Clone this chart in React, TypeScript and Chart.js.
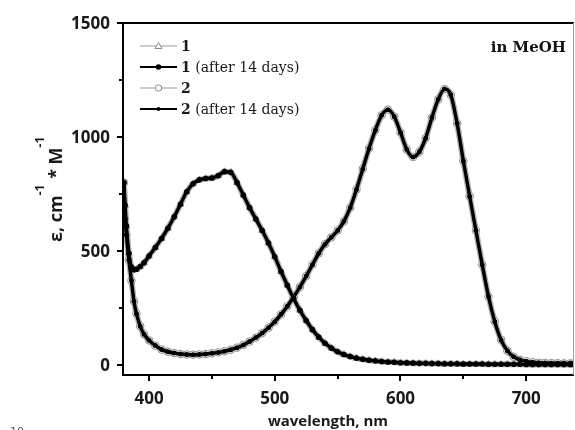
import React, { useEffect, useRef } from 'react';
import { Chart, registerables } from 'chart.js';
Chart.register(...registerables);

const wavelengths = [
  380, 381, 382, 384, 386, 388, 390, 393, 396, 400, 405, 410, 415, 420, 425, 430, 435, 440, 445, 450,
  455, 460, 465, 470, 475, 480, 485, 490, 495, 500, 505, 510, 515, 520, 525, 530, 535, 540, 545, 550,
  555, 560, 565, 570, 575, 580, 585, 590, 595, 600, 605, 610, 615, 620, 625, 630, 635, 640, 645, 650,
  655, 660, 665, 670, 675, 680, 685, 690, 695, 700, 705, 710, 715, 720, 725, 730, 735, 738,
];
const compound1 = [
  800, 700, 610, 490, 430, 418, 420, 432, 448, 478, 515, 555, 600, 650, 705, 760, 795, 812, 818, 820,
  830, 848, 845, 800, 745, 690, 640, 590, 535, 475, 410, 350, 292, 240, 195, 155, 122, 95, 74, 58,
  46, 37, 30, 25, 21, 18, 15, 13, 12, 10, 9, 8, 7, 7, 6, 6, 5, 5, 5, 4,
  4, 4, 4, 3, 3, 3, 3, 3, 3, 2, 2, 2, 2, 2, 2, 2, 2, 2,
];
const compound2 = [
  800, 640, 570, 460, 370, 280, 225, 170, 135, 108, 85, 68, 58, 52, 48, 46, 45, 46, 48, 51,
  55, 60, 67, 76, 88, 103, 120, 140, 163, 190, 222, 258, 298, 342, 390, 440, 490, 530, 560, 590,
  630, 690, 770, 860, 950, 1030, 1095, 1120, 1090, 1020, 945, 912, 935, 995, 1085, 1165, 1210, 1185, 1060, 895,
  740, 590, 440, 300, 190, 110, 62, 36, 23, 16, 12, 10, 9, 8, 8, 7, 7, 7,
];
const xTicks = [400, 500, 600, 700];
const xMinorTicks = [450, 550, 650];
const yTicks = [0, 500, 1000, 1500];
const yMinorTicks = [250, 750, 1250];
const legendNames = ['1', '1', '2', '2'];
const legendSuffix = ['', ' (after 14 days)', '', ' (after 14 days)'];
const xTitle = 'wavelength, nm';
const yTitleParts: [string, boolean][] = [['ε, cm', false], ['-1', true], [' * M', false], ['-1', true]];
const annotation = 'in MeOH';
const cornerText = '10';

const SANS = '"Open Sans", sans-serif';
const SERIF = '"DejaVu Serif", serif';

const makeData = (vals: number[]) => wavelengths.map((w, i) => ({ x: w, y: vals[i] }));

const decor = {
  id: 'decor',
  afterDraw(chart: any) {
    const { ctx, chartArea: a, scales } = chart;
    const x = scales.x;
    const y = scales.y;
    ctx.save();
    // frame
    ctx.strokeStyle = '#000';
    ctx.lineWidth = 2;
    ctx.beginPath();
    ctx.moveTo(a.left, a.top);
    ctx.lineTo(a.left, a.bottom);
    ctx.lineTo(a.right, a.bottom);
    ctx.moveTo(a.left, a.top);
    ctx.lineTo(a.right, a.top);
    ctx.stroke();
    ctx.strokeStyle = '#a0a0a0';
    ctx.lineWidth = 1;
    ctx.beginPath();
    ctx.moveTo(a.right - 0.5, a.top);
    ctx.lineTo(a.right - 0.5, a.bottom);
    ctx.stroke();

    // ticks
    ctx.strokeStyle = '#000';
    ctx.lineWidth = 2;
    ctx.beginPath();
    xTicks.forEach((v) => {
      const px = Math.round(x.getPixelForValue(v));
      ctx.moveTo(px, a.bottom);
      ctx.lineTo(px, a.bottom + 6);
    });
    xMinorTicks.forEach((v) => {
      const px = Math.round(x.getPixelForValue(v));
      ctx.moveTo(px, a.bottom);
      ctx.lineTo(px, a.bottom + 4);
    });
    yTicks.forEach((v) => {
      const py = Math.round(y.getPixelForValue(v));
      ctx.moveTo(a.left, py);
      ctx.lineTo(a.left - 6, py);
    });
    yMinorTicks.forEach((v) => {
      const py = Math.round(y.getPixelForValue(v));
      ctx.moveTo(a.left, py);
      ctx.lineTo(a.left - 4, py);
    });
    ctx.stroke();

    // tick labels
    ctx.fillStyle = '#1a1a1a';
    ctx.font = `bold 17px ${SANS}`;
    ctx.textAlign = 'right';
    ctx.textBaseline = 'middle';
    yTicks.forEach((v) => {
      ctx.fillText(String(v), a.left - 13, y.getPixelForValue(v) + 1);
    });
    ctx.textAlign = 'center';
    xTicks.forEach((v) => {
      ctx.fillText(String(v), x.getPixelForValue(v), a.bottom + 24);
    });

    // x title
    ctx.font = `bold 15px ${SANS}`;
    ctx.textBaseline = 'alphabetic';
    ctx.fillText(xTitle, 328, 426);

    // y title
    ctx.save();
    ctx.translate(62, 242);
    ctx.rotate(-Math.PI / 2);
    ctx.textAlign = 'left';
    let cx = 0;
    yTitleParts.forEach(([t, sup]) => {
      ctx.font = sup ? `bold 12px ${SANS}` : `bold 18px ${SANS}`;
      ctx.fillText(t, cx, sup ? -18 : 0);
      cx += ctx.measureText(t).width + (sup ? 1 : 0);
    });
    ctx.restore();

    // annotation
    ctx.font = `bold 15px ${SERIF}`;
    ctx.textAlign = 'right';
    ctx.fillStyle = '#111';
    ctx.fillText(annotation, 566, 52);

    // legend
    const rows = [46, 67, 88, 109];
    const x0 = 140;
    const x1 = 177;
    const mx = (x0 + x1) / 2;
    rows.forEach((ry, i) => {
      const after = i % 2 === 1;
      ctx.strokeStyle = after ? '#000' : '#9a9a9a';
      ctx.lineWidth = after ? 2 : 1.2;
      ctx.beginPath();
      ctx.moveTo(x0, ry);
      ctx.lineTo(x1, ry);
      ctx.stroke();
      ctx.lineWidth = 1;
      if (i === 0) {
        ctx.fillStyle = '#fff';
        ctx.strokeStyle = '#8a8a8a';
        ctx.beginPath();
        ctx.moveTo(mx, ry - 3.5);
        ctx.lineTo(mx + 3.5, ry + 2.5);
        ctx.lineTo(mx - 3.5, ry + 2.5);
        ctx.closePath();
        ctx.fill();
        ctx.stroke();
      } else if (i === 2) {
        ctx.fillStyle = '#fff';
        ctx.strokeStyle = '#8a8a8a';
        ctx.beginPath();
        ctx.arc(mx, ry, 3.2, 0, Math.PI * 2);
        ctx.fill();
        ctx.stroke();
      } else {
        ctx.fillStyle = '#000';
        ctx.beginPath();
        ctx.arc(mx, ry, i === 1 ? 2.8 : 2, 0, Math.PI * 2);
        ctx.fill();
      }
      ctx.fillStyle = '#1a1a1a';
      ctx.textAlign = 'left';
      ctx.textBaseline = 'middle';
      ctx.font = `bold 14px ${SERIF}`;
      ctx.fillText(legendNames[i], 181, ry + 1);
      const w = ctx.measureText(legendNames[i]).width;
      ctx.font = `14px ${SERIF}`;
      ctx.fillText(legendSuffix[i], 181 + w, ry + 1);
    });

    // cut-off corner text
    ctx.font = `11px "DejaVu Sans", sans-serif`;
    ctx.fillStyle = '#555';
    ctx.textAlign = 'left';
    ctx.textBaseline = 'alphabetic';
    ctx.fillText(cornerText, 10, 435);

    ctx.restore();
  },
};

export default function App() {
  const ref = useRef<HTMLCanvasElement | null>(null);
  useEffect(() => {
    if (!ref.current) return;
    const grey = (label: string, vals: number[], style: any) => ({
      label,
      data: makeData(vals),
      borderColor: '#b4b4b4',
      borderWidth: 6,
      pointStyle: style,
      pointRadius: 3.8,
      pointBackgroundColor: '#ffffff',
      pointBorderColor: '#8c8c8c',
      pointBorderWidth: 1,
      cubicInterpolationMode: 'monotone' as const,
      order: 2,
      clip: 0,
    });
    const black = (label: string, vals: number[], r: number) => ({
      label,
      data: makeData(vals),
      borderColor: '#000',
      borderWidth: 3.4,
      pointStyle: 'circle',
      pointRadius: r,
      pointBackgroundColor: '#000',
      pointBorderColor: '#000',
      pointBorderWidth: 0,
      cubicInterpolationMode: 'monotone' as const,
      order: 1,
      clip: 0,
    });
    const chart = new Chart(ref.current, {
      type: 'line',
      data: {
        datasets: [
          grey('1', compound1, 'triangle'),
          black('1 (after 14 days)', compound1, 2.8),
          grey('2', compound2, 'circle'),
          black('2 (after 14 days)', compound2, 2.5),
        ],
      },
      options: {
        responsive: false,
        animation: false,
        events: [],
        layout: { padding: { left: 0, top: 23, right: 1, bottom: 0 }, autoPadding: false },
        plugins: { legend: { display: false }, tooltip: { enabled: false } },
        scales: {
          x: {
            type: 'linear',
            min: 379.3,
            max: 738,
            grid: { display: false },
            border: { display: false },
            ticks: { display: false },
            afterFit: (s: any) => { s.height = 55; },
          },
          y: {
            type: 'linear',
            min: -44,
            max: 1500,
            grid: { display: false },
            border: { display: false },
            ticks: { display: false },
            afterFit: (s: any) => { s.width = 123; },
          },
        },
      },
      plugins: [decor],
    });
    return () => chart.destroy();
  }, []);
  return (
    <div style={{ position: 'absolute', left: 0, top: 0, width: 575, height: 430, background: '#fff' }}>
      <canvas ref={ref} width={575} height={430} style={{ display: 'block' }} />
    </div>
  );
}
